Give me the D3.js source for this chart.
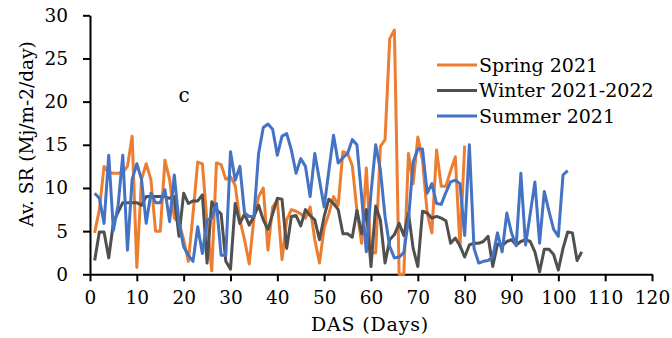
<!DOCTYPE html>
<html><head><meta charset="utf-8">
<script src="https://cdn.jsdelivr.net/npm/d3@7"></script>
<style>body{margin:0;background:#fff}svg{display:block}text{font-family:"DejaVu Serif",serif;fill:#000}</style>
</head><body><svg id="c" width="672" height="338"></svg>
<script>
const seriesNames = ["Spring 2021", "Winter 2021-2022", "Summer 2021"];
const seriesColors = ["#ED7D31", "#505050", "#4472C4"];
const spring = [4.8,7.5,12.5,11.8,11.7,11.7,11.8,12.5,16,0.8,11,12.8,11,5,5,13.2,11,6.5,6,4,1.5,7,13,12.8,6,0.4,12.9,12.7,11,11.3,10.3,6.3,4,1.2,6.5,9,10,2.8,7.8,8.5,1.7,6.3,7.5,7.3,7,6.5,7.8,4,1.3,5.4,7,9,8,14.2,14,12.6,7.4,3.6,12.3,2.5,2.5,14.8,15.6,27.3,28.3,0,0,14,10.5,15.9,13.2,7.1,4.8,14.4,10.2,10.2,12,13.6,3.2,14.9];
const winter = [1.6,4.9,4.9,1.9,6,7.2,8.3,8.3,8.3,8.3,8,9,9,9,9,9,8.8,9,4.4,9.4,8.2,8.5,8.5,9.2,1.3,8.4,7.5,7,1.5,0.6,8.2,5.9,7,5.7,6.7,8,6.3,5.2,7,8.8,8.7,3,6.7,6.8,5.6,7.5,6.8,6.3,4,6.7,8.7,8.2,7.5,4.7,4.7,4.3,7.4,4.7,7.5,0.9,7.9,6.3,1.3,4,4.6,5.9,4.5,7.1,3,0.9,7.3,7.1,6.5,6.7,6.5,6.2,3.6,4.2,3.3,2,3.4,3.6,3.6,3.8,4.4,0.9,3.5,3.3,3.8,4,3.4,3.8,4,3.8,2.6,0.3,2.9,2.9,2.3,0.5,3,4.9,4.8,1.6,2.6];
const summer = [9.4,8.8,5.9,13.8,5.1,8,13.8,2.8,11,12.8,11,5.9,9.4,8.3,8.3,9.8,6.1,11.5,6,3.2,2.2,1.5,5.5,2.4,6.3,6.5,8.2,2.2,2.2,14.2,10.9,12.5,7.1,6.7,6.7,14,17,17.4,16.8,13.8,16,16.3,14.4,11.7,13.4,12.5,9,14,10.9,7.8,12,16.1,12.9,13.5,14,15.6,15,9,2.6,9.4,15,12.1,6.7,3.2,1.9,2,2.5,6.3,13,14.5,14.5,9.4,10.5,8.2,8.1,9.5,10.7,10.9,10.5,4.5,15,3,1.3,1.5,1.6,2,4.8,2.6,7.1,4.8,3.3,11.7,3.4,7,10.7,3.6,9.6,7.3,5.2,4.4,11.5,12];
const xTicks = [0,10,20,30,40,50,60,70,80,90,100,110,120];
const yTicks = [0,5,10,15,20,25,30];
const xTitle = "DAS (Days)";
const yTitle = "Av. SR (Mj/m-2/day)";
const panelLabel = "c";

const svg = d3.select("#c");
const x = d3.scaleLinear().domain([0,120]).range([90,652]);
const y = d3.scaleLinear().domain([0,30]).range([274.3,15.3]);

const xAxis = svg.append("g").attr("transform","translate(0,274.3)")
  .call(d3.axisBottom(x).tickValues(xTicks).tickSize(7).tickSizeOuter(0).tickPadding(10));
const yAxis = svg.append("g").attr("transform","translate(90,0)")
  .call(d3.axisLeft(y).tickValues(yTicks).tickSize(7).tickSizeOuter(0).tickPadding(15));
[xAxis,yAxis].forEach(g=>{
  g.select(".domain").attr("stroke","#000").attr("stroke-width",2);
  g.selectAll(".tick line").attr("stroke","#000").attr("stroke-width",2);
  g.selectAll(".tick text").attr("font-family","DejaVu Serif").attr("font-size",18.5).attr("fill","#000");
});

const data = [spring, winter, summer];
const line = d3.line().x((d,i)=>x(i+1)).y(d=>y(d));
data.forEach((s,k)=>{
  svg.append("path").datum(s).attr("d",line).attr("fill","none")
    .attr("stroke",seriesColors[k]).attr("stroke-width",3).attr("stroke-linejoin","round");
});

svg.append("text").attr("x",370).attr("y",331).attr("text-anchor","middle").attr("font-size",19).attr("letter-spacing",0.8).text(xTitle);
svg.append("text").attr("transform","translate(33,134) rotate(-90)").attr("text-anchor","middle").attr("font-size",18.5).text(yTitle);
svg.append("text").attr("x",184).attr("y",102).attr("text-anchor","middle").attr("font-size",20).text(panelLabel);

const lg = svg.append("g");
seriesNames.forEach((n,k)=>{
  const yy = 65 + k*25.5;
  lg.append("line").attr("x1",437).attr("x2",477).attr("y1",yy).attr("y2",yy)
    .attr("stroke",seriesColors[k]).attr("stroke-width",3);
  lg.append("text").attr("x",479).attr("y",yy+6.5).attr("font-size",19).text(n);
});
</script></body></html>
